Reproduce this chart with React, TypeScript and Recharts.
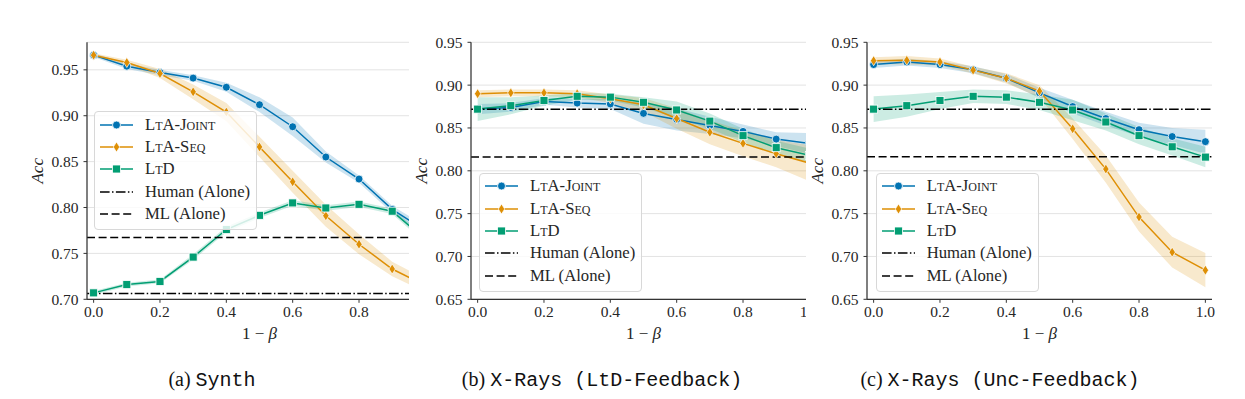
import React from 'react';
import { ComposedChart, Line, Area, XAxis, YAxis, CartesianGrid, ReferenceLine, Legend } from 'recharts';

// ---------- data ----------
const xValues = [0, 0.1, 0.2, 0.3, 0.4, 0.5, 0.6, 0.7, 0.8, 0.9, 1.0];
const xTicks = [0, 0.2, 0.4, 0.6, 0.8, 1.0];
const yTicksA = [0.7, 0.75, 0.8, 0.85, 0.9, 0.95];
const yTicksBC = [0.65, 0.7, 0.75, 0.8, 0.85, 0.9, 0.95];

// (a) Synth
const jointA = [0.966, 0.954, 0.947, 0.941, 0.931, 0.912, 0.888, 0.855, 0.831, 0.798, 0.775];
const jointErrA = [0.002, 0.003, 0.003, 0.003, 0.005, 0.008, 0.01, 0.006, 0.004, 0.004, 0.005];
const seqA = [0.966, 0.958, 0.946, 0.926, 0.904, 0.866, 0.828, 0.791, 0.76, 0.733, 0.715];
const seqErrA = [0.002, 0.003, 0.005, 0.008, 0.01, 0.011, 0.012, 0.012, 0.011, 0.008, 0.007];
const ltdA = [0.707, 0.716, 0.7195, 0.746, 0.776, 0.7915, 0.805, 0.7995, 0.8035, 0.796, 0.765];
const ltdErrA = [0.002, 0.002, 0.002, 0.003, 0.003, 0.003, 0.003, 0.003, 0.003, 0.003, 0.004];
const humanA = 0.7062;
const mlA = 0.7674;

// (b) X-Rays (LtD-Feedback)
const jointB = [0.872, 0.874, 0.881, 0.879, 0.878, 0.867, 0.86, 0.853, 0.846, 0.837, 0.832];
const jointErrB = [0.006, 0.005, 0.004, 0.005, 0.006, 0.012, 0.013, 0.01, 0.008, 0.008, 0.012];
const seqB = [0.89, 0.891, 0.891, 0.89, 0.884, 0.877, 0.861, 0.845, 0.832, 0.82, 0.809];
const seqErrB = [0.004, 0.004, 0.004, 0.004, 0.005, 0.008, 0.012, 0.014, 0.015, 0.016, 0.021];
const ltdB = [0.872, 0.876, 0.882, 0.887, 0.886, 0.88, 0.871, 0.858, 0.841, 0.827, 0.818];
const ltdErrB = [0.014, 0.01, 0.006, 0.004, 0.004, 0.006, 0.01, 0.009, 0.008, 0.008, 0.008];
const humanB = 0.8719;
const mlB = 0.816;

// (c) X-Rays (Unc-Feedback)
const jointC = [0.924, 0.927, 0.924, 0.918, 0.908, 0.891, 0.875, 0.861, 0.848, 0.84, 0.834];
const jointErrC = [0.004, 0.004, 0.004, 0.004, 0.005, 0.006, 0.008, 0.008, 0.008, 0.01, 0.014];
const seqC = [0.9285, 0.929, 0.927, 0.9175, 0.908, 0.893, 0.849, 0.802, 0.746, 0.705, 0.684];
const seqErrC = [0.004, 0.005, 0.004, 0.004, 0.006, 0.007, 0.012, 0.016, 0.017, 0.018, 0.02];
const ltdC = [0.872, 0.876, 0.882, 0.887, 0.886, 0.88, 0.871, 0.857, 0.841, 0.828, 0.816];
const ltdErrC = [0.015, 0.013, 0.01, 0.008, 0.008, 0.009, 0.012, 0.01, 0.01, 0.01, 0.012];
const humanC = 0.8719;
const mlC = 0.8163;

const seriesNames = ['LtA-Joint', 'LtA-Seq', 'LtD'];
const refNames = ['Human (Alone)', 'ML (Alone)'];
const captionLabels = ['(a)', '(b)', '(c)'];
const captionTitles = ['Synth', 'X-Rays (LtD-Feedback)', 'X-Rays (Unc-Feedback)'];
const xAxisLabel = '1 − ';
const yAxisLabel = 'Acc';

// ---------- style ----------
const BLUE = '#0173b2';
const ORANGE = '#de8f05';
const GREEN = '#029e73';
const SPINE = '#333333';
const TEXT = '#262626';
const SERIF = "'Liberation Serif', 'Times New Roman', serif";
const MONO = "'Liberation Mono', 'DejaVu Sans Mono', monospace";
const HUMAN_DASH = '9.6 2.4 1.5 2.4';
const ML_DASH = '8 3.6';

const PLOT_TOP = 42.3;
const PLOT_BOTTOM = 299.3;
const PLOT_W = 345;
const YW = 80;
const XH = 45;
const RIGHT_M = 10;
const CHART_H = PLOT_BOTTOM + XH;
const CHART_W = YW + PLOT_W + RIGHT_M;
const X_DOMAIN: [number, number] = [-0.02, 1.02];

function buildRows(joint: number[], jointErr: number[], seq: number[], seqErr: number[], ltd: number[], ltdErr: number[]) {
  return xValues.map((x, i) => ({
    x,
    joint: joint[i],
    jointBand: [joint[i] - jointErr[i], joint[i] + jointErr[i]],
    seq: seq[i],
    seqBand: [seq[i] - seqErr[i], seq[i] + seqErr[i]],
    ltd: ltd[i],
    ltdBand: [ltd[i] - ltdErr[i], ltd[i] + ltdErr[i]],
  }));
}

// ---------- markers ----------
const circleShape = (cx: number, cy: number, key?: any) => (
  <circle key={key} cx={cx} cy={cy} r={4} fill={BLUE} stroke="#fff" strokeWidth={0.8} />
);
const diamondShape = (cx: number, cy: number, key?: any) => (
  <path key={key} d={`M${cx},${cy - 5}L${cx + 3.2},${cy}L${cx},${cy + 5}L${cx - 3.2},${cy}Z`} fill={ORANGE} stroke="#fff" strokeWidth={0.7} />
);
const squareShape = (cx: number, cy: number, key?: any) => (
  <rect key={key} x={cx - 4} y={cy - 4} width={8} height={8} fill={GREEN} stroke="#fff" strokeWidth={0.8} />
);

const renderCircle = (p: any) => (p.cx == null ? <g key={`c${p.index}`} /> : circleShape(p.cx, p.cy, `c${p.index}`));
const renderDiamond = (p: any) => (p.cx == null ? <g key={`d${p.index}`} /> : diamondShape(p.cx, p.cy, `d${p.index}`));
const renderSquare = (p: any) => (p.cx == null ? <g key={`s${p.index}`} /> : squareShape(p.cx, p.cy, `s${p.index}`));

// ---------- legend ----------
const LEG_W = 163;
const LEG_H = 119;
const legendEntries = [
  { name: seriesNames[0], color: BLUE, marker: circleShape, dash: undefined as string | undefined, caps: true },
  { name: seriesNames[1], color: ORANGE, marker: diamondShape, dash: undefined, caps: true },
  { name: seriesNames[2], color: GREEN, marker: squareShape, dash: undefined, caps: true },
  { name: refNames[0], color: '#000', marker: null as any, dash: HUMAN_DASH, caps: false },
  { name: refNames[1], color: '#000', marker: null as any, dash: ML_DASH, caps: false },
];

const LegendBox = () => (
  <div
    style={{
      boxSizing: 'border-box',
      width: LEG_W,
      height: LEG_H,
      background: 'rgba(255,255,255,0.82)',
      border: '1px solid #d8d8d8',
      borderRadius: 4,
      position: 'relative',
      fontFamily: SERIF,
      fontSize: 16.7,
      color: TEXT,
    }}
  >
    {legendEntries.map((e, i) => (
      <div key={e.name} style={{ position: 'absolute', left: 0, top: 12.5 + i * 22.4 - 11, height: 22, width: LEG_W - 2 }}>
        <svg width={45} height={22} style={{ position: 'absolute', left: 0, top: 0 }}>
          <line x1={5} y1={11} x2={38} y2={11} stroke={e.color} strokeWidth={1.5} strokeDasharray={e.dash} />
          {e.marker ? e.marker(21.5, 11) : null}
        </svg>
        <span
          style={{
            position: 'absolute',
            left: 50,
            top: 0,
            lineHeight: '22px',
            whiteSpace: 'nowrap',
            fontVariant: e.caps ? 'small-caps' : 'normal',
          }}
        >
          {e.name}
        </span>
      </div>
    ))}
  </div>
);

// ---------- axis labels ----------
const XLabel = (props: any) => {
  const vb = props.viewBox || {};
  return (
    <text x={vb.x + vb.width / 2} y={vb.y + 39.5} textAnchor="middle" fontFamily={SERIF} fontSize={17} fill={TEXT}>
      {xAxisLabel}
      <tspan fontStyle="italic">β</tspan>
    </text>
  );
};

const YLabel = (props: any) => {
  const vb = props.viewBox || {};
  const x = vb.x + vb.width - 50;
  const y = vb.y + vb.height / 2;
  return (
    <text
      x={x}
      y={y}
      textAnchor="middle"
      dominantBaseline="central"
      transform={`rotate(-90, ${x}, ${y})`}
      fontFamily={SERIF}
      fontStyle="italic"
      fontSize={17}
      fill={TEXT}
    >
      {yAxisLabel}
    </text>
  );
};

// ---------- panel ----------
type PanelProps = {
  rows: any[];
  human: number;
  ml: number;
  yDomain: [number, number];
  yTicks: number[];
  clipLeft: number;
  clipWidth: number;
  plotLeft: number;
  legendLeft: number;
  legendTop: number;
};

const Panel = ({ rows, human, ml, yDomain, yTicks, clipLeft, clipWidth, plotLeft, legendLeft, legendTop }: PanelProps) => {
  const chartLeft = plotLeft - YW;
  return (
    <div style={{ position: 'absolute', left: clipLeft, top: 0, width: clipWidth, height: 360, overflow: 'hidden' }}>
      <div style={{ position: 'absolute', left: chartLeft - clipLeft, top: 0 }}>
        <ComposedChart width={CHART_W} height={CHART_H} data={rows} margin={{ top: PLOT_TOP, right: RIGHT_M, bottom: 0, left: 0 }}>
          <CartesianGrid vertical={false} stroke="#e3e3e3" strokeWidth={1} />
          <XAxis
            dataKey="x"
            type="number"
            domain={X_DOMAIN}
            ticks={xTicks}
            interval={0}
            allowDataOverflow
            tickFormatter={(v: number) => v.toFixed(1)}
            height={XH}
            tickSize={3.5}
            tickMargin={3}
            axisLine={{ stroke: SPINE, strokeWidth: 1.25 }}
            tickLine={{ stroke: SPINE, strokeWidth: 1 }}
            tick={{ fill: TEXT, fontSize: 15.5, fontFamily: SERIF }}
            label={<XLabel />}
          />
          <XAxis
            xAxisId="top"
            dataKey="x"
            type="number"
            orientation="top"
            domain={X_DOMAIN}
            allowDataOverflow
            height={0}
            tick={false}
            tickLine={false}
            axisLine={{ stroke: SPINE, strokeWidth: 1.25 }}
          />
          <YAxis
            type="number"
            domain={yDomain}
            ticks={yTicks}
            interval={0}
            allowDataOverflow
            width={YW}
            tickFormatter={(v: number) => v.toFixed(2)}
            tickSize={3.5}
            tickMargin={5}
            axisLine={{ stroke: SPINE, strokeWidth: 1.25 }}
            tickLine={{ stroke: SPINE, strokeWidth: 1 }}
            tick={{ fill: TEXT, fontSize: 15.5, fontFamily: SERIF }}
            label={<YLabel />}
          />
          <YAxis
            yAxisId="right"
            type="number"
            orientation="right"
            domain={yDomain}
            allowDataOverflow
            width={0}
            tick={false}
            tickLine={false}
            axisLine={{ stroke: SPINE, strokeWidth: 1.25 }}
          />
          <Area type="linear" dataKey="jointBand" stroke="none" fill={BLUE} fillOpacity={0.2} isAnimationActive={false} activeDot={false} dot={false} />
          <Area type="linear" dataKey="seqBand" stroke="none" fill={ORANGE} fillOpacity={0.2} isAnimationActive={false} activeDot={false} dot={false} />
          <Area type="linear" dataKey="ltdBand" stroke="none" fill={GREEN} fillOpacity={0.2} isAnimationActive={false} activeDot={false} dot={false} />
          <Line type="linear" dataKey="joint" stroke={BLUE} strokeWidth={1.5} dot={renderCircle} activeDot={false} isAnimationActive={false} />
          <Line type="linear" dataKey="seq" stroke={ORANGE} strokeWidth={1.5} dot={renderDiamond} activeDot={false} isAnimationActive={false} />
          <Line type="linear" dataKey="ltd" stroke={GREEN} strokeWidth={1.5} dot={renderSquare} activeDot={false} isAnimationActive={false} />
          <ReferenceLine y={human} stroke="#000" strokeWidth={1.5} strokeDasharray={HUMAN_DASH} />
          <ReferenceLine y={ml} stroke="#000" strokeWidth={1.5} strokeDasharray={ML_DASH} />
          <Legend
            layout="horizontal"
            verticalAlign="middle"
            align="center"
            content={() => <LegendBox />}
            wrapperStyle={{ left: legendLeft - chartLeft, top: legendTop, width: LEG_W, height: LEG_H, margin: 0, padding: 0 }}
          />
        </ComposedChart>
      </div>
    </div>
  );
};

const rowsA = buildRows(jointA, jointErrA, seqA, seqErrA, ltdA, ltdErrA);
const rowsB = buildRows(jointB, jointErrB, seqB, seqErrB, ltdB, ltdErrB);
const rowsC = buildRows(jointC, jointErrC, seqC, seqErrC, ltdC, ltdErrC);

const captionCenters = [212, 602, 1000];

export default function App() {
  return (
    <div style={{ position: 'absolute', left: 0, top: 0, width: 1245, height: 399, background: '#fff', overflow: 'hidden' }}>
      <Panel rows={rowsA} human={humanA} ml={mlA} yDomain={[0.7, 0.98]} yTicks={yTicksA} clipLeft={0} clipWidth={408.5} plotLeft={86.7} legendLeft={94} legendTop={111} />
      <Panel rows={rowsB} human={humanB} ml={mlB} yDomain={[0.65, 0.95]} yTicks={yTicksBC} clipLeft={408.5} clipWidth={397.5} plotLeft={470.7} legendLeft={479} legendTop={172.7} />
      <Panel rows={rowsC} human={humanC} ml={mlC} yDomain={[0.65, 0.95]} yTicks={yTicksBC} clipLeft={806} clipWidth={439} plotLeft={867.3} legendLeft={875.7} legendTop={172.7} />
      {captionCenters.map((c, i) => (
        <div
          key={i}
          style={{
            position: 'absolute',
            left: c - 200,
            width: 400,
            top: 366,
            height: 26,
            lineHeight: '26px',
            textAlign: 'center',
            fontSize: 20,
            color: '#111',
            whiteSpace: 'nowrap',
          }}
        >
          <span style={{ fontFamily: SERIF }}>{captionLabels[i]} </span>
          <span style={{ fontFamily: MONO }}>{captionTitles[i]}</span>
        </div>
      ))}
    </div>
  );
}
